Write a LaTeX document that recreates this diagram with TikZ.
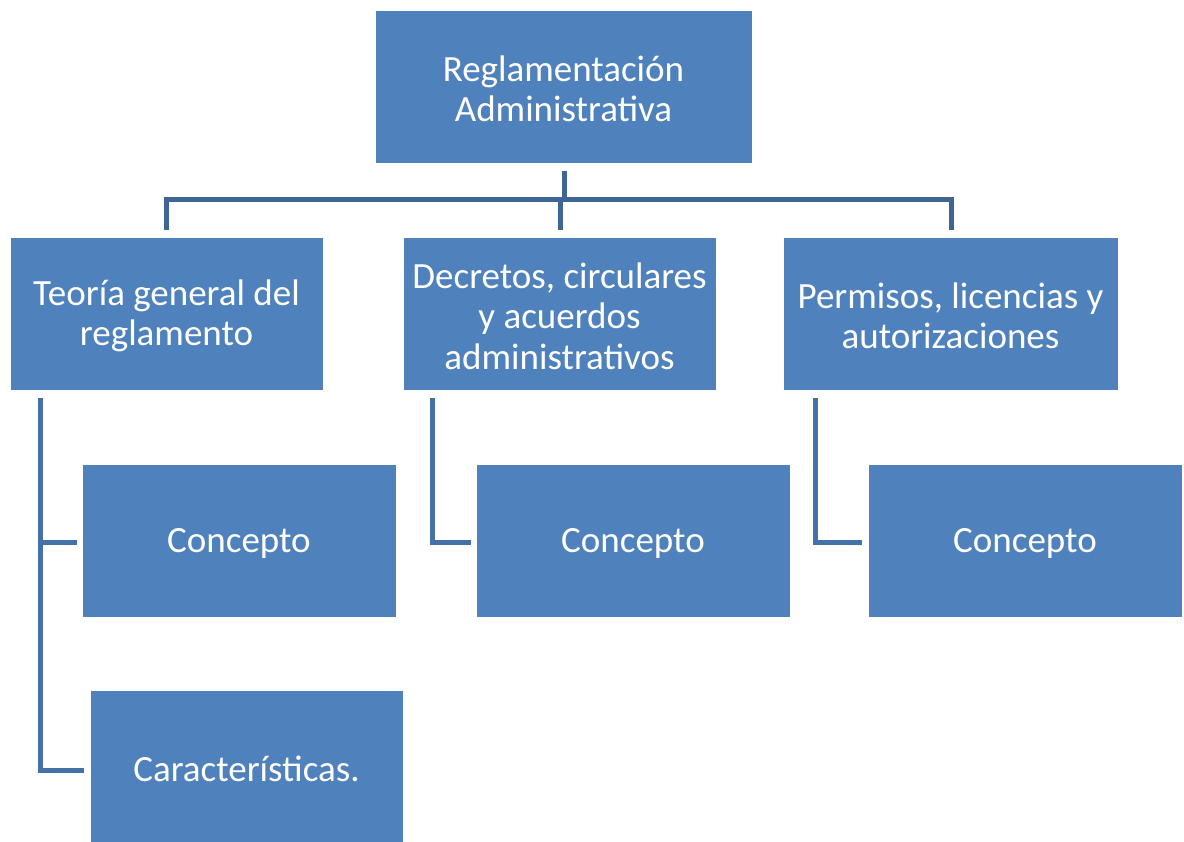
\documentclass[tikz,border=0pt]{standalone}
\usepackage{fontspec}
\setmainfont{Carlito}
\definecolor{boxblue}{HTML}{4F81BD}
\definecolor{lineblue}{HTML}{4471A8}
\definecolor{topline}{HTML}{3F6597}
\begin{document}
\begin{tikzpicture}[x=1pt,y=-1pt,
  box/.style={fill=boxblue, draw=white, line width=0.8pt, text=white, align=center,
    font=\fontsize{37}{40.5}\selectfont, inner sep=0pt},
  lbl/.style={yshift=-2.5pt},
  conn/.style={draw=lineblue, line width=5pt, line cap=butt, line join=miter},
  tconn/.style={draw=topline, line width=5pt, line cap=butt, line join=miter}]
\useasboundingbox (0,0) rectangle (1184,842);
\path[box] (375,10) rectangle (752,163) node[pos=0.5,lbl] (top) {Reglamentación\\Administrativa};
\path[box] (10,237) rectangle (323,390) node[pos=0.5,lbl] (a) {Teoría general del\\reglamento};
\path[box] (403,237) rectangle (716,390) node[pos=0.5,lbl] (b) {Decretos, circulares\\y acuerdos\\administrativos};
\path[box] (783,237) rectangle (1118,390) node[pos=0.5,lbl] (c) {Permisos, licencias y\\autorizaciones};
\path[box] (82,464) rectangle (396,617) node[pos=0.5,lbl] (a1) {Concepto};
\path[box] (476,464) rectangle (790,617) node[pos=0.5,lbl] (b1) {Concepto};
\path[box] (868,464) rectangle (1182,617) node[pos=0.5,lbl] (c1) {Concepto};
\path[box] (90,690) rectangle (403,842) node[pos=0.5,lbl] (a2) {Características.};
% connector coordinates
\coordinate (t0) at (564,171);
\coordinate (t1) at (564,200);
\coordinate (hL) at (166,200);
\coordinate (hR) at (951,200);
\coordinate (aT) at (166,230);
\coordinate (bT) at (560,230);
\coordinate (cT) at (951,230);
\coordinate (aS) at (40,398);
\coordinate (aM) at (40,542);
\coordinate (aE1) at (77,542);
\coordinate (aB) at (40,770);
\coordinate (aE2) at (84,770);
\coordinate (bS) at (432,398);
\coordinate (bE) at (471,542);
\coordinate (cS) at (815,398);
\coordinate (cE) at (862,542);
\draw[tconn] (t0) -- (t1);
\draw[tconn] ([xshift=-2.5pt]hL |- t1) -- ([xshift=2.5pt]hR |- t1);
\draw[tconn] (hL |- t1) -- (aT);
\draw[tconn] (bT |- t1) -- (bT);
\draw[tconn] (hR |- t1) -- (cT);
\draw[conn] (aS) -- (aB) -- (aE2);
\draw[conn] (aM) -- (aE1);
\draw[conn] (bS) |- (bE);
\draw[conn] (cS) |- (cE);
\end{tikzpicture}
\end{document}
